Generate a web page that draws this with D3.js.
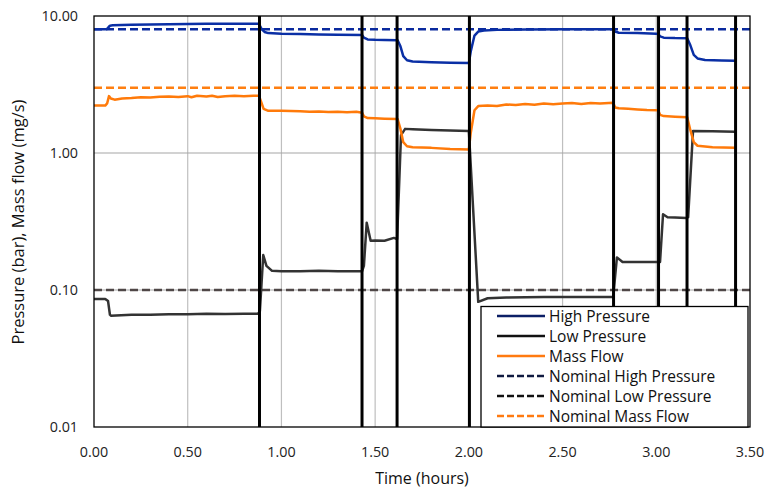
<!DOCTYPE html>
<html><head><meta charset="utf-8">
<script src="https://cdn.jsdelivr.net/npm/d3@7"></script>
<style>body{margin:0;background:#fff}svg{display:block}text{font-family:"Open Sans","Noto Sans",sans-serif}</style>
</head><body><svg id="c" width="767" height="490"></svg>
<script>
// Data (time in hours, values in bar or mg/s)
const highPressure = [[0,8.0],[0.06,8.0],[0.07,8.05],[0.085,8.5],[0.10,8.55],[0.2,8.62],[0.3,8.68],[0.4,8.72],[0.5,8.75],[0.6,8.77],[0.7,8.78],[0.8,8.78],[0.88,8.78],[0.895,8.0],[0.91,7.65],[0.93,7.5],[1.0,7.42],[1.1,7.38],[1.2,7.34],[1.3,7.3],[1.43,7.27],[1.44,6.95],[1.46,6.75],[1.5,6.7],[1.55,6.68],[1.62,6.65],[1.635,6.0],[1.65,5.1],[1.67,4.75],[1.7,4.65],[1.8,4.6],[1.9,4.56],[2.0,4.53],[2.01,5.5],[2.03,7.2],[2.05,7.7],[2.08,7.85],[2.15,7.92],[2.3,7.97],[2.5,8.0],[2.7,8.02],[2.77,8.02],[2.78,7.7],[2.8,7.55],[2.9,7.5],[3.0,7.42],[3.01,7.4],[3.02,7.1],[3.04,6.95],[3.1,6.9],[3.165,6.88],[3.18,6.2],[3.2,5.2],[3.22,4.9],[3.26,4.78],[3.35,4.74],[3.42,4.72]];
const lowPressure = [[0,0.086],[0.06,0.086],[0.075,0.083],[0.085,0.066],[0.09,0.065],[0.2,0.066],[0.3,0.066],[0.4,0.0665],[0.5,0.0665],[0.6,0.067],[0.7,0.0668],[0.8,0.067],[0.875,0.067],[0.885,0.07],[0.903,0.18],[0.92,0.15],[0.95,0.138],[1.0,0.137],[1.1,0.137],[1.2,0.138],[1.3,0.137],[1.43,0.137],[1.44,0.15],[1.455,0.31],[1.476,0.229],[1.5,0.23],[1.55,0.229],[1.6,0.24],[1.617,0.235],[1.638,1.35],[1.66,1.5],[1.7,1.49],[1.8,1.47],[1.9,1.46],[2.0,1.45],[2.05,0.082],[2.1,0.087],[2.2,0.088],[2.4,0.089],[2.6,0.089],[2.77,0.089],[2.79,0.173],[2.82,0.16],[2.9,0.16],[3.0,0.16],[3.02,0.16],[3.036,0.357],[3.06,0.34],[3.1,0.338],[3.16,0.335],[3.17,0.34],[3.196,1.45],[3.3,1.44],[3.42,1.43]];
const massFlow = [[0,2.22],[0.06,2.22],[0.07,2.3],[0.08,2.6],[0.09,2.5],[0.11,2.45],[0.15,2.5],[0.2,2.52],[0.25,2.55],[0.3,2.54],[0.35,2.57],[0.4,2.58],[0.45,2.56],[0.5,2.6],[0.52,2.55],[0.55,2.62],[0.6,2.58],[0.63,2.62],[0.66,2.56],[0.7,2.6],[0.75,2.62],[0.8,2.6],[0.85,2.62],[0.88,2.62],[0.89,2.4],[0.905,2.1],[0.93,2.03],[1.0,2.03],[1.1,2.02],[1.15,2.0],[1.2,2.01],[1.25,1.99],[1.3,2.0],[1.35,1.98],[1.4,2.0],[1.43,1.97],[1.44,1.85],[1.46,1.8],[1.5,1.79],[1.55,1.78],[1.62,1.77],[1.635,1.5],[1.65,1.2],[1.67,1.12],[1.7,1.1],[1.8,1.09],[1.9,1.07],[2.0,1.06],[2.01,1.4],[2.03,2.05],[2.05,2.2],[2.1,2.22],[2.15,2.2],[2.2,2.26],[2.25,2.24],[2.3,2.28],[2.35,2.25],[2.4,2.3],[2.45,2.27],[2.5,2.3],[2.55,2.32],[2.6,2.28],[2.65,2.32],[2.7,2.3],[2.77,2.33],[2.78,2.15],[2.8,2.12],[2.85,2.1],[2.9,2.08],[2.95,2.06],[3.01,2.05],[3.02,1.9],[3.04,1.86],[3.1,1.84],[3.165,1.82],[3.18,1.5],[3.2,1.2],[3.22,1.13],[3.3,1.1],[3.42,1.09]];
const nominalHigh = 8.0, nominalLow = 0.1, nominalMass = 3.0;
const eventTimes = [0.883,1.43,1.617,2.003,2.772,3.012,3.164,3.423];
const xTicks = [0,0.5,1,1.5,2,2.5,3,3.5];
const yTicks = [0.01,0.1,1,10];
const legendItems = [
  {label:"High Pressure", color:"#0c1f66", dash:null},
  {label:"Low Pressure", color:"#111", dash:null},
  {label:"Mass Flow", color:"#ff7a10", dash:null},
  {label:"Nominal High Pressure", color:"#101a40", dash:"7,3"},
  {label:"Nominal Low Pressure", color:"#111", dash:"7,3"},
  {label:"Nominal Mass Flow", color:"#ff7a10", dash:"7,3"}
];

const svg = d3.select("#c");
const L=94, R=750, T=16, B=427;
const x = d3.scaleLinear().domain([0,3.5]).range([L,R]);
const y = d3.scaleLog().domain([0.01,10]).range([B,T]);

// grid
svg.append("g").selectAll("line").data(xTicks.slice(1,-1)).join("line")
  .attr("x1",d=>x(d)).attr("x2",d=>x(d)).attr("y1",T).attr("y2",B)
  .attr("stroke","#bfbfbf").attr("stroke-width",1.2);
svg.append("g").selectAll("line").data([0.1,1]).join("line")
  .attr("x1",L).attr("x2",R).attr("y1",d=>y(d)).attr("y2",d=>y(d))
  .attr("stroke","#a6a6a6").attr("stroke-width",1.2);

const line = d3.line().x(d=>x(d[0])).y(d=>y(d[1]));
// nominal lines
const nom = [[nominalHigh,"#0a2a9e"],[nominalLow,"#4f4747"],[nominalMass,"#ff7f10"]];
svg.append("g").selectAll("line").data(nom).join("line")
  .attr("x1",L).attr("x2",R).attr("y1",d=>y(d[0])).attr("y2",d=>y(d[0]))
  .attr("stroke",d=>d[1]).attr("stroke-width",2.5).attr("stroke-dasharray","8,4");

// series
svg.append("path").datum(lowPressure).attr("d",line).attr("fill","none").attr("stroke","#333").attr("stroke-width",2.5).attr("stroke-linejoin","round");
svg.append("path").datum(massFlow).attr("d",line).attr("fill","none").attr("stroke","#ff7a0a").attr("stroke-width",2.5).attr("stroke-linejoin","round");
svg.append("path").datum(highPressure).attr("d",line).attr("fill","none").attr("stroke","#0a2fa5").attr("stroke-width",2.5).attr("stroke-linejoin","round");

// event lines
svg.append("g").selectAll("line").data(eventTimes).join("line")
  .attr("x1",d=>x(d)).attr("x2",d=>x(d)).attr("y1",T).attr("y2",B)
  .attr("stroke","#000").attr("stroke-width",3);

// frame
svg.append("rect").attr("x",L).attr("y",T).attr("width",R-L).attr("height",B-T)
  .attr("fill","none").attr("stroke","#000").attr("stroke-width",1.3);

// tick labels
svg.append("g").selectAll("text").data(xTicks).join("text")
  .attr("x",d=>x(d)).attr("y",456.5).attr("text-anchor","middle")
  .attr("font-size",14.3).attr("fill","#222").text(d=>d.toFixed(2));
svg.append("g").selectAll("text").data(yTicks).join("text")
  .attr("x",78).attr("y",d=>y(d)+5).attr("text-anchor","end")
  .attr("font-size",14.3).attr("fill","#222").text(d=>d.toFixed(2));

svg.append("text").attr("x",422).attr("y",484).attr("text-anchor","middle")
  .attr("font-size",16).attr("fill","#111").text("Time (hours)");
svg.append("text").attr("transform","translate(24,222) rotate(-90)").attr("text-anchor","middle")
  .attr("font-size",16.5).attr("fill","#111").text("Pressure (bar), Mass flow (mg/s)");

// legend
const lg = svg.append("g");
lg.append("rect").attr("x",481).attr("y",306.5).attr("width",267).attr("height",B-306.5)
  .attr("fill","#fff").attr("stroke","#000").attr("stroke-width",1.3);
const it = lg.selectAll("g.it").data(legendItems).join("g").attr("class","it")
  .attr("transform",(d,i)=>`translate(0,${316+i*20})`);
it.append("line").attr("x1",497).attr("x2",545).attr("y1",0).attr("y2",0)
  .attr("stroke",d=>d.color).attr("stroke-width",2.6).attr("stroke-dasharray",d=>d.dash);
it.append("text").attr("x",549).attr("y",5.5).attr("font-size",15.5).attr("fill","#111").text(d=>d.label);
</script></body></html>
